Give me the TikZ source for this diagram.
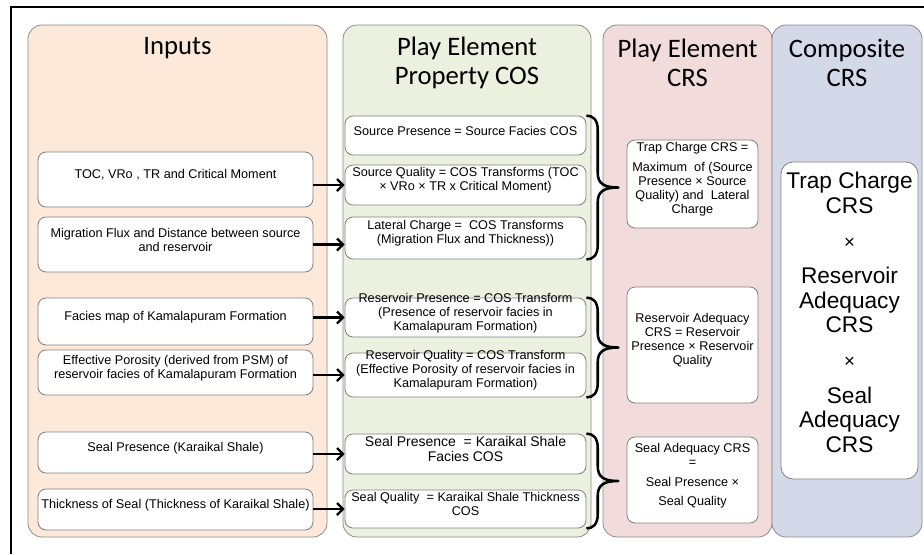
\documentclass[tikz,border=0pt]{standalone}
\usepackage{fontspec}
\setmainfont{Liberation Sans}
\newfontfamily\hdfont{Carlito}
\usetikzlibrary{fit,calc,arrows.meta}
\definecolor{cIn}{HTML}{FDE9D9}
\definecolor{cPe}{HTML}{EBF1DE}
\definecolor{cCrs}{HTML}{F2DCDB}
\definecolor{cCmp}{HTML}{D3D9E8}
\newcommand\mybrace[2]{%
  \draw[brc] let \p1=(#1), \p2=(#2), \p3=($(#1)!0.5!(#2)$) in
    (\p1) .. controls (\x1+5pt,\y1) and (\x1+8.5pt,\y1-3pt) .. (\x1+8.5pt,\y1-11pt)
    -- (\x1+8.5pt,\y3+11pt)
    .. controls (\x1+8.5pt,\y3+3pt) and (\x1+13pt,\y3) .. (\x1+24pt,\y3)
    .. controls (\x1+13pt,\y3) and (\x1+8.5pt,\y3-3pt) .. (\x1+8.5pt,\y3-11pt)
    -- (\x1+8.5pt,\y2+11pt)
    .. controls (\x1+8.5pt,\y2+3pt) and (\x1+5pt,\y2) .. (\p2);}
\begin{document}
\begin{tikzpicture}[x=0.75pt,y=-0.75pt,
  col/.style={draw=black!45, line width=0.6pt, rounded corners=10.5pt, inner sep=0pt},
  box/.style={draw=black!50, line width=0.6pt, fill=white, rounded corners=6pt, inner sep=0pt, align=center, font=\fontsize{9.5}{10.5}\selectfont},
  hd/.style={align=center, font=\hdfont\fontsize{20}{21.75}\selectfont, inner sep=0pt},
  arr/.style={line width=1.7pt, -{Straight Barb[length=4.5pt,width=9pt]}},
  brc/.style={line width=1.9pt, line join=round},
]
\useasboundingbox (0,0) rectangle (924,554);
\fill[white] (0,0) rectangle (924,554);
\draw[line width=0.8pt] (924,7) -- (11,7) -- (11,554);

% columns
\node[col, fill=cIn, fit={(28,25) (327,537)}] (inputs) {};
\node[col, fill=cPe, fit={(343,25) (591,537)}] (pecos) {};
\node[col, fill=cCrs, fit={(603,25) (772,537)}] (pecrs) {};
\node[col, fill=cCmp, fit={(772,25) (922,537)}] (cmpcrs) {};

% headers
\node[hd] (hin) at (177.5,48) {Inputs};
\node[hd] (hpe) at (467,62.5) {Play Element\\Property COS};
\node[hd] (hcrs) at (687.5,62.5) {Play Element\\CRS};
\node[hd] (hcmp) at (847,62.5) {Composite\\CRS};

% inputs
\node[box, fit={(38,152) (313,207)}] (toc) {TOC, VRo , TR and Critical Moment};
\node[box, fit={(38,217) (313,272)}] (mig) {Migration Flux and Distance between source\\and reservoir};
\node[box, fit={(38,298) (313,345)}] (fac) {Facies map of Kamalapuram Formation};
\node[box, fit={(38,350) (313,395)}] (eff) {Effective Porosity (derived from PSM) of\\reservoir facies of Kamalapuram Formation};
\node[box, fit={(38,432) (313,473)}] (sealin) {Seal Presence (Karaikal Shale)};
\node[box, fit={(38,489) (313,530)}] (thick) {Thickness of Seal (Thickness of Karaikal Shale)};

% play element property COS
\node[box, fit={(345,116) (586,155)}] (sp) {Source Presence = Source Facies COS};
\node[box, fit={(345,165) (586,205)}] (sq) {Source Quality = COS Transforms (TOC\\× VRo × TR x Critical Moment)};
\node[box, fit={(345,217) (586,259)}] (lc) {Lateral Charge =\ \ COS Transforms\\(Migration Flux and Thickness))};
\node[box, fit={(345,298) (586,337)}] (rp) {Reservoir Presence = COS Transform\\(Presence of reservoir facies in\\Kamalapuram Formation)};
\node[box, fit={(345,353) (586,397)}] (rq) {Reservoir Quality = COS Transform\\(Effective Porosity of reservoir facies in\\Kamalapuram Formation)};
\node[box, font=\fontsize{10.5}{11}\selectfont, fit={(345,434) (586,474)}] (slp) {Seal Presence\ \ = Karaikal Shale\\Facies COS};
\node[box, fit={(345,490) (586,528)}] (slq) {Seal Quality\ \ = Karaikal Shale Thickness\\COS};

% play element CRS
\node[box, fit={(627,140) (758,228)}] (tc) {Trap Charge CRS =\\[4.5pt]Maximum\ \ of (Source\\Presence × Source\\Quality) and\ \ Lateral\\Charge};
\node[box, fit={(627,287) (758,403)}] (ra) {Reservoir Adequacy\\CRS = Reservoir\\Presence × Reservoir\\Quality};
\node[box, fit={(627,437) (758,523)}] (sa) {Seal Adequacy CRS\\=\\[4.5pt]Seal Presence ×\\[4pt]Seal Quality};

% composite
\node[box, rounded corners=9pt, font=\fontsize{17}{18.4}\selectfont, fit={(781,162) (918,479)}] (comp) {Trap Charge\\CRS\\[8pt]{\fontsize{14}{18.4}\selectfont ×}\\[8pt]Reservoir\\Adequacy\\CRS\\[8pt]{\fontsize{14}{18.4}\selectfont ×}\\[8pt]Seal\\Adequacy\\CRS};

% arrows
\draw[arr] (sq.west -| toc.east) -- (sq.west);
\draw[arr] (mig.east) -- (mig.east -| lc.west);
\draw[arr] (rp.west -| fac.east) -- (rp.west);
\draw[arr] (rq.west -| eff.east) -- (rq.west);
\draw[arr] (slp.west -| sealin.east) -- (slp.west);
\draw[arr] (slq.west -| thick.east) -- (slq.west);

% braces
\mybrace{sp.north east}{lc.south east}
\mybrace{rp.north east}{rq.south east}
\mybrace{slp.north east}{slq.south east}
\end{tikzpicture}
\end{document}
